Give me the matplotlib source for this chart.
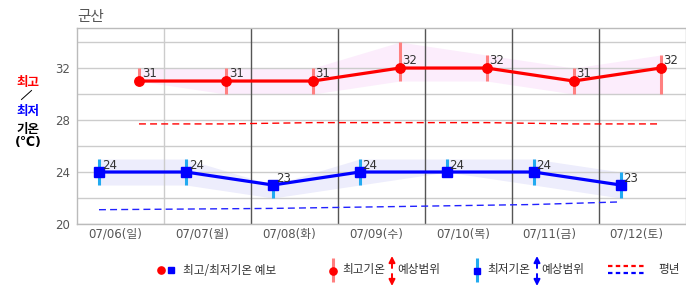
import matplotlib
matplotlib.use("Agg")
import matplotlib.pyplot as plt
from matplotlib.lines import Line2D
import numpy as np

plt.rcParams['font.family'] = ['Noto Sans CJK KR', 'DejaVu Sans']
NUM = ['DejaVu Sans', 'Noto Sans CJK KR']

days = ['07/06(일)', '07/07(월)', '07/08(화)', '07/09(수)', '07/10(목)', '07/11(금)', '07/12(토)']
max_temp = [31, 31, 31, 32, 32, 31, 32]
max_low = [31, 30, 30, 31, 31, 30, 30]
max_high = [32, 32, 32, 34, 33, 32, 33]
min_temp = [24, 24, 23, 24, 24, 24, 23]
min_low = [23, 23, 22, 23, 24, 23, 22]
min_high = [25, 25, 23, 25, 25, 25, 24]
normal_max = [27.7, 27.7, 27.8, 27.8, 27.8, 27.7, 27.7]
normal_min = [21.1, 21.15, 21.2, 21.3, 21.4, 21.5, 21.7]
yticks = [20, 24, 28, 32]

W, H = 686, 295
fig = plt.figure(figsize=(W / 100, H / 100), dpi=100)
ax = fig.add_axes([77 / W, (H - 224) / H, (685.5 - 77) / W, (224 - 28) / H])

n = len(days)
idx = np.arange(n)
xr = idx + 0.213
xb = idx - 0.247

ax.set_xlim(-0.5, n - 0.5)
ax.set_ylim(20, 35.08)

# grid
for y in range(20, 36, 2):
    ax.axhline(y, color='#cccccc', lw=1, zorder=1.5)
for k, xv in enumerate(np.arange(0.5, n - 0.5, 1)):
    ax.axvline(xv, color='#cccccc' if k == 0 else '#555555', lw=1, zorder=1.5)

for s in ['left', 'top', 'right', 'bottom']:
    ax.spines[s].set_color('#bbbbbb')
    ax.spines[s].set_linewidth(1)

# bands
ax.fill_between(xr, max_low, max_high, color='#fcedfc', lw=0, zorder=1)
ax.fill_between(xb, min_low, min_high, color='#ededfc', lw=0, zorder=1)

# normals
ax.plot(xr, normal_max, color='#ff0000', lw=1.0, ls=(0, (5, 3)), zorder=2)
ax.plot(xb, normal_min, color='#2222ff', lw=1.0, ls=(0, (5, 3)), zorder=2)

# range bars
ax.vlines(xr, max_low, max_high, color='#ff8080', lw=2.2, zorder=3)
ax.vlines(xb, min_low, min_high, color='#22aaf0', lw=2.2, zorder=3)

# main lines
ax.plot(xr, max_temp, color='#ff0000', lw=2.3, marker='o', ms=6.8, zorder=4)
ax.plot(xb, min_temp, color='#0000ff', lw=2.3, marker='s', ms=6.8, zorder=4)

for x, v in zip(xr, max_temp):
    ax.annotate(str(v), (x, v), xytext=(2, 2.8), textcoords='offset points',
                ha='left', va='baseline', fontsize=8.5, color='#333333', zorder=5, family=NUM)
for x, v in zip(xb, min_temp):
    ax.annotate(str(v), (x, v), xytext=(2, 2.4), textcoords='offset points',
                ha='left', va='baseline', fontsize=8.5, color='#333333', zorder=5, family=NUM)

ax.set_yticks(yticks)
ax.set_yticklabels([str(t) for t in yticks], family=NUM)
ax.set_xticks(idx - 0.063)
ax.set_xticklabels(days, family=NUM)
ax.tick_params(axis='both', length=0, labelsize=8.5, labelcolor='#555555')
ax.tick_params(axis='y', pad=5)
ax.tick_params(axis='x', pad=2.5)

# title
fig.text(77 / W, 1 - 17 / H, '군산', fontsize=10.5, color='#555555', ha='left', va='center')

# y label
fig.text(28 / W, 1 - 82 / H, '최고', fontsize=9, color='#ff0000', weight='bold', ha='center', va='center')
fig.add_artist(Line2D([21.5 / W, 31.5 / W], [1 - 99.5 / H, 1 - 90.5 / H], color='black', lw=0.7))
fig.text(28 / W, 1 - 111 / H, '최저', fontsize=9, color='#0000ff', weight='bold', ha='center', va='center')
fig.text(28 / W, 1 - 129 / H, '기온', fontsize=9, color='black', weight='bold', ha='center', va='center')
fig.text(28 / W, 1 - 142.5 / H, '(℃)', fontsize=9, color='black', weight='bold', ha='center', va='center',
         family=NUM)

# legend (pixel coordinates)
lg = fig.add_axes([0, 0, 1, 50 / H])
lg.set_xlim(0, W)
lg.set_ylim(H, H - 50)
lg.axis('off')
fs = 8.4
tc = '#333333'
lg.plot([161], [270], 'o', color='#ff0000', ms=5.2)
lg.plot([171], [270], 's', color='#0000ff', ms=5.0)
lg.text(183, 270, '최고/최저기온 예보', fontsize=fs, color=tc, ha='left', va='center')

lg.plot([333, 333], [258, 282], color='#ff8080', lw=2.2, solid_capstyle='butt')
lg.plot([333], [271], 'o', color='#ff0000', ms=5.2)
lg.text(342, 270, '최고기온', fontsize=fs, color=tc, ha='left', va='center')
lg.text(397, 270, '예상범위', fontsize=fs, color=tc, ha='left', va='center')
for y0, y1 in [(268, 256), (274, 286)]:
    lg.annotate('', xy=(392, y1), xytext=(392, y0),
                arrowprops=dict(arrowstyle='-|>', color='#ff0000', lw=1.4,
                                mutation_scale=9, shrinkA=0, shrinkB=0))

lg.plot([477, 477], [258, 282], color='#22aaf0', lw=2.2, solid_capstyle='butt')
lg.plot([477], [271], 's', color='#0000ff', ms=5.0)
lg.text(487, 270, '최저기온', fontsize=fs, color=tc, ha='left', va='center')
lg.text(541, 270, '예상범위', fontsize=fs, color=tc, ha='left', va='center')
for y0, y1 in [(268, 256), (274, 286)]:
    lg.annotate('', xy=(537, y1), xytext=(537, y0),
                arrowprops=dict(arrowstyle='-|>', color='#0000ff', lw=1.4,
                                mutation_scale=9, shrinkA=0, shrinkB=0))

lg.plot([608, 646], [266, 266], color='#ff0000', lw=1.6, ls=(0, (2, 1.5)))
lg.plot([608, 646], [273, 273], color='#0000ff', lw=1.6, ls=(0, (2, 1.5)))
lg.text(658, 270, '평년', fontsize=fs, color=tc, ha='left', va='center')

fig.savefig('out.png', dpi=100)
